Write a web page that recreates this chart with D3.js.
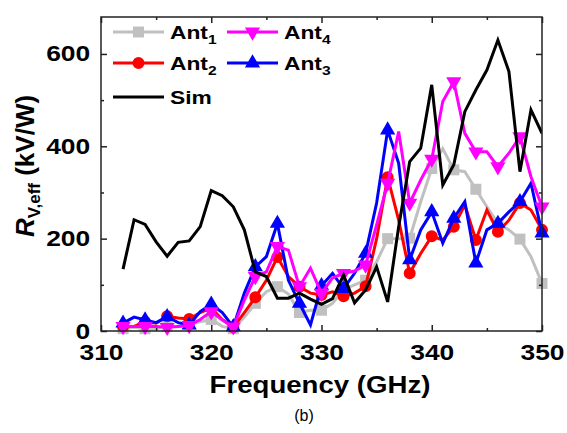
<!DOCTYPE html>
<html><head><meta charset="utf-8">
<script src="https://cdn.jsdelivr.net/npm/d3@7"></script>
<style>
body{margin:0;background:#fff}
svg{display:block}
text{font-family:Arial,"Liberation Sans",sans-serif}
</style>
</head><body><svg id="c" width="567" height="433"></svg>
<script>
// ---- data ----
const freq = [312,313,314,315,316,317,318,319,320,321,322,323,324,325,326,327,328,329,330,331,332,333,334,335,336,337,338,339,340,341,342,343,344,345,346,347,348,349,350];
const ant1 = [5,8,5,5,10,10,15,20,25,10, 5,30,60,85,96,80,40,45,45,60, 90,100,110,150,200,200,201,280,352,395, 349,345,307,269,233,219,199,161,103];
const ant2 = [10,10,20,17,32,28,26,40,50,25, 8,40,73,110,160,118,96,82,78,85, 75,82,97,200,333,240,125,168,205,197, 226,273,197,262,215,240,277,262,219];
const ant3 = [17,30,24,18,31,18,13,42,58,40, 9,82,139,161,233,110,60,13,98,125, 92,125,168,277,435,363,154,219,258,190, 244,280,147,219,233,258,280,320,212];
const ant4 = [10,10,10,10,8,10,12,25,42,24, 9,67,118,128,183,175,96,136,82,115, 125,130,143,230,320,432,277,327,372,497, 540,428,388,388,356,385,421,334,269];
const sim  = [134,241,231,193,162,192,195,226,304,293, 269,219,128,118,71,71,82,69,58,70, 121,61,89,139,63,226,367,396,533,316, 360,475,522,565,630,562,345,479,428];
const xTicks = [310,320,330,340,350];
const xMinor = [315,325,335,345];
const yTicks = [0,200,400,600];
const yMinor = [100,300,500];

const series = [
  {name:"Ant", sub:"1", values:ant1, color:"#c0c0c0", marker:"square"},
  {name:"Ant", sub:"2", values:ant2, color:"#ff0000", marker:"circle"},
  {name:"Ant", sub:"3", values:ant3, color:"#0000ff", marker:"up"},
  {name:"Ant", sub:"4", values:ant4, color:"#ff00ff", marker:"down"},
  {name:"Sim", sub:"",  values:sim,  color:"#000000", marker:null}
];

// ---- layout ----
const L=101, R=542, T=17, B=331;
const svg = d3.select("#c");
const x = d3.scaleLinear().domain([310,350]).range([L,R]);
const y = d3.scaleLinear().domain([0,680]).range([B,T]);

function markerPath(type){
  if(type==="square") return d3.symbol(d3.symbolSquare,121)();
  if(type==="circle") return d3.symbol(d3.symbolCircle,113)();
  return d3.symbol(d3.symbolTriangle,100)();
}
function markerTransform(type,px,py){
  return type==="down" ? `translate(${px},${py}) rotate(180)` : `translate(${px},${py})`;
}

svg.append("clipPath").attr("id","clip").append("rect")
  .attr("x",L).attr("y",T).attr("width",R-L).attr("height",B-T);

const line = d3.line().x((d,i)=>x(freq[i])).y(d=>y(d));
const plot = svg.append("g");
series.forEach(s=>{
  const g = plot.append("g");
  g.append("path").datum(s.values).attr("d",line)
    .attr("fill","none").attr("stroke",s.color).attr("stroke-width",3)
    .attr("stroke-linejoin","miter").attr("clip-path","url(#clip)");
  if(s.marker){
    g.selectAll("path.m").data(s.values.map((v,i)=>({f:freq[i],v})).filter(d=>d.f%2===0))
      .enter().append("path").attr("class","m")
      .attr("d",markerPath(s.marker))
      .attr("transform",d=>markerTransform(s.marker,x(d.f),y(d.v)))
      .attr("fill",s.color);
  }
});

// ---- axes ----
const axG = svg.append("g");
function styleAxis(g){
  g.select(".domain").remove();
  g.selectAll(".tick line").attr("stroke","#222").attr("stroke-width",1.5);
}
const xb = axG.append("g").attr("transform",`translate(0,${B})`)
  .call(d3.axisBottom(x).tickValues(xTicks).tickSizeInner(-6).tickSizeOuter(0).tickPadding(13).tickFormat(d3.format("d")));
styleAxis(xb);
xb.selectAll("text").attr("font-size",22).attr("font-weight","bold").attr("fill","#000")
  .attr("transform","scale(1.2,1)");
axG.append("g").attr("transform",`translate(0,${B})`)
  .call(d3.axisBottom(x).tickValues(xMinor).tickSizeInner(-3).tickSizeOuter(0).tickFormat("")).call(styleAxis);
axG.append("g").attr("transform",`translate(0,${T})`)
  .call(d3.axisTop(x).tickValues(xTicks).tickSizeInner(-6).tickSizeOuter(0).tickFormat("")).call(styleAxis);
axG.append("g").attr("transform",`translate(0,${T})`)
  .call(d3.axisTop(x).tickValues(xMinor).tickSizeInner(-3).tickSizeOuter(0).tickFormat("")).call(styleAxis);

const yl = axG.append("g").attr("transform",`translate(${L},0)`)
  .call(d3.axisLeft(y).tickValues(yTicks).tickSizeInner(-6).tickSizeOuter(0).tickPadding(9));
styleAxis(yl);
yl.selectAll("text").attr("font-size",22).attr("font-weight","bold").attr("fill","#000")
  .attr("transform","scale(1.2,1)");
axG.append("g").attr("transform",`translate(${L},0)`)
  .call(d3.axisLeft(y).tickValues(yMinor).tickSizeInner(-3).tickSizeOuter(0).tickFormat("")).call(styleAxis);
axG.append("g").attr("transform",`translate(${R},0)`)
  .call(d3.axisRight(y).tickValues(yTicks).tickSizeInner(-6).tickSizeOuter(0).tickFormat("")).call(styleAxis);
axG.append("g").attr("transform",`translate(${R},0)`)
  .call(d3.axisRight(y).tickValues(yMinor).tickSizeInner(-3).tickSizeOuter(0).tickFormat("")).call(styleAxis);

svg.append("rect").attr("x",L).attr("y",T).attr("width",R-L).attr("height",B-T)
  .attr("fill","none").attr("stroke","#222").attr("stroke-width",1.5);

// ---- titles ----
svg.append("text").attr("x",320).attr("y",393).attr("text-anchor","middle")
  .attr("font-size",24).attr("font-weight","bold")
  .attr("transform","translate(320,0) scale(1.15,1) translate(-320,0)")
  .text("Frequency (GHz)");

const yt = svg.append("text").attr("transform","translate(34,166) rotate(-90)")
  .attr("text-anchor","middle").attr("font-size",26).attr("font-weight","bold");
yt.append("tspan").attr("font-style","italic").text("R");
yt.append("tspan").attr("font-size",17).attr("dy",6).text("V,eff");
yt.append("tspan").attr("dy",-6).text(" (kV/W)");

svg.append("text").attr("x",304).attr("y",421).attr("text-anchor","middle")
  .attr("font-size",16).text("(b)");

// ---- legend ----
const legendPos = [
  {s:0, lx:113, ly:32},
  {s:1, lx:113, ly:63},
  {s:4, lx:113, ly:97},
  {s:3, lx:227, ly:32},
  {s:2, lx:227, ly:63}
];
const lg = svg.append("g");
legendPos.forEach(p=>{
  const s = series[p.s];
  const g = lg.append("g");
  g.append("line").attr("x1",p.lx).attr("x2",p.lx+51).attr("y1",p.ly).attr("y2",p.ly)
    .attr("stroke",s.color).attr("stroke-width",3);
  if(s.marker){
    g.append("path").attr("d",markerPath(s.marker))
      .attr("transform",markerTransform(s.marker,p.lx+25.5,p.ly)).attr("fill",s.color);
  }
  const tx = p.lx+57;
  const t = g.append("text").attr("x",tx).attr("y",p.ly+7)
    .attr("font-size",19).attr("font-weight","bold")
    .attr("transform",`translate(${tx},0) scale(1.2,1) translate(${-tx},0)`);
  t.append("tspan").text(s.name);
  if(s.sub) t.append("tspan").attr("font-size",13).attr("dy",5).text(s.sub);
});
</script>
</body></html>
